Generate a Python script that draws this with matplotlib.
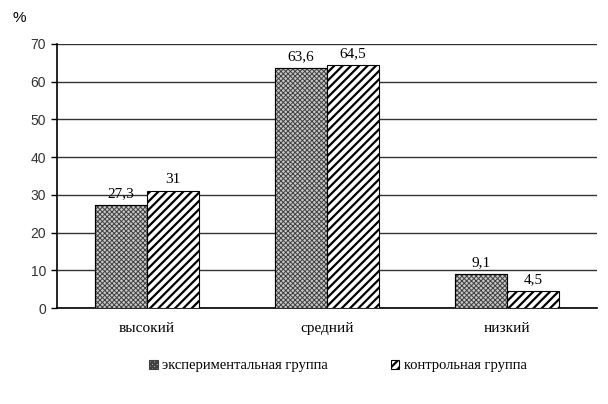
import numpy as np
import matplotlib.pyplot as plt

plt.rcParams["font.family"] = ["Liberation Serif", "DejaVu Serif"]
plt.rcParams["hatch.linewidth"] = 1.6

categories = ["высокий", "средний", "низкий"]
experimental = [27.3, 63.6, 9.1]
control = [31, 64.5, 4.5]
series_names = ["экспериментальная группа", "контрольная группа"]
yticks = [0, 10, 20, 30, 40, 50, 60, 70]


def fmt(v):
    s = f"{v:g}"
    return s.replace(".", ",")


fig = plt.figure(figsize=(6.08, 4.04), dpi=100)
ax = fig.add_axes([0.094, 0.2376, 0.888, 0.6535])

x = np.arange(len(categories))
w = 0.289

# экспериментальная группа: мелкая серая сетка
b1 = ax.bar(x - w / 2, experimental, w, facecolor="#c8c8c8", edgecolor="#404040",
            linewidth=0.8, hatch="xxxxxxx", label=series_names[0], zorder=3)
for p in b1:
    p.set_hatch_linewidth(0.7)
ax.bar(x - w / 2, experimental, w, facecolor="none", edgecolor="black",
       linewidth=0.8, zorder=4)
# контрольная группа: диагональная штриховка
ax.bar(x + w / 2, control, w, facecolor="white", edgecolor="black",
       linewidth=0.8, hatch="////", label=series_names[1], zorder=3)

for xi, v in zip(x - w / 2, experimental):
    ax.text(xi, v + 1.3, fmt(v), ha="center", va="bottom", fontsize=11)
for xi, v in zip(x + w / 2, control):
    ax.text(xi, v + 1.3, fmt(v), ha="center", va="bottom", fontsize=11)

ax.set_xlim(-0.5, 2.5)
ax.set_ylim(0, 70)
ax.set_yticks(yticks)
ax.set_yticklabels([str(t) for t in yticks], family="Liberation Sans",
                   fontsize=10, color="#333333")
ax.set_xticks(x)
ax.set_xticklabels(categories, fontsize=11)
ax.tick_params(axis="x", length=0, pad=10)
ax.tick_params(axis="y", length=4, width=1, pad=4)
ax.yaxis.grid(True, color="#333333", linewidth=1)
ax.set_axisbelow(True)
for s in ["top", "right"]:
    ax.spines[s].set_visible(False)
ax.spines["left"].set_linewidth(1.2)
ax.spines["bottom"].set_linewidth(1.2)

fig.text(0.02, 0.955, "%", fontsize=11, family="Liberation Sans", va="center")

ax.legend(loc="upper center", bbox_to_anchor=(0.52, -0.145), ncol=2,
          frameon=False, fontsize=10.5, handlelength=0.6, handleheight=0.6,
          handletextpad=0.3, columnspacing=4.3)

fig.savefig("out.png", dpi=100)
